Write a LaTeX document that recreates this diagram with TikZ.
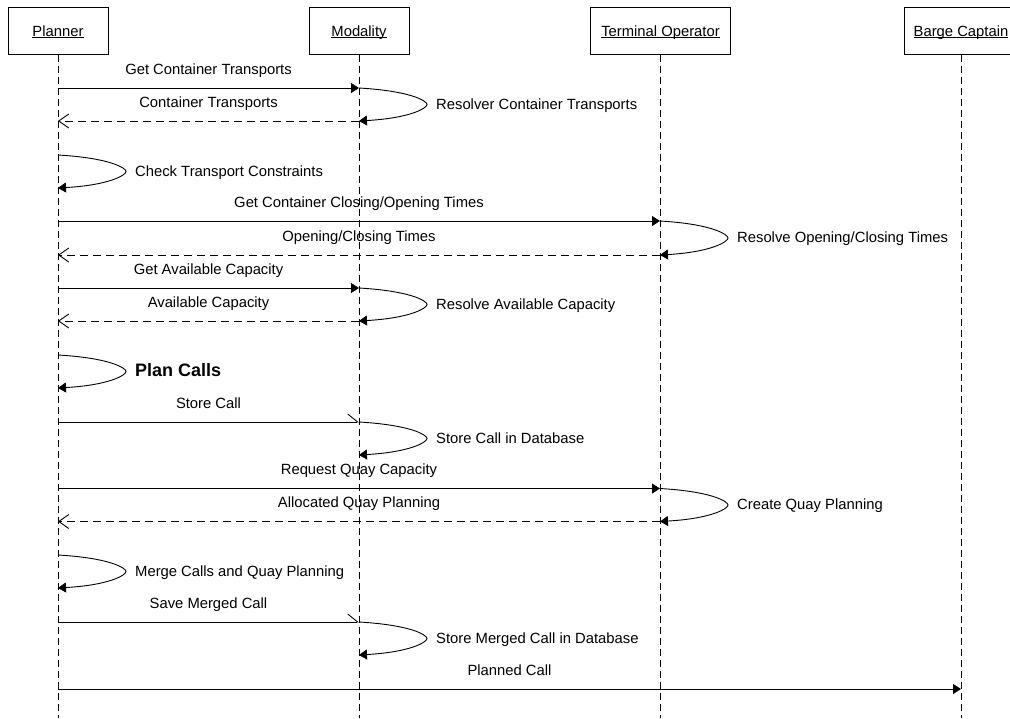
\documentclass[tikz,border=0pt]{standalone}
\usepackage{fontspec}
\setmainfont{Liberation Sans}
\usetikzlibrary{arrows.meta}

% underlined participant name with a fixed rule just below the baseline
\newcommand\ulname[1]{\setbox0\hbox{#1}\rlap{\rule[-1.8pt]{\wd0}{0.9pt}}\box0}

% self message on a lifeline: name, x, top y, bottom y, label
\newcommand\selfmsg[5]{%
  \coordinate (#1s) at (#2,#3);
  \coordinate (#1e) at (#2,#4);
  \coordinate (#1t) at (#2+68,{(#3+#4)/2});
  \draw[selfloop] (#1s) .. controls +(52,3) and +(0,-3.5) .. (#1t)
                        .. controls +(0,3.5) and +(52,-3) .. (#1e);
  \node[anchor=base west, inner sep=0pt] (#1l) at (#2+77,#3+21) {#5};
}

\begin{document}
\begin{tikzpicture}[x=1pt,y=-1pt,
  font=\fontsize{14.8}{17}\selectfont,
  actor/.style={draw, line width=0.9pt, minimum height=47pt, inner sep=0pt,
                text height=10.6pt, text depth=0pt},
  lifeline/.style={line width=0.9pt, dash pattern=on 7pt off 4pt},
  call/.style={line width=0.9pt, -{Triangle[length=8pt,width=10pt]}},
  async/.style={line width=0.9pt, -{Straight Barb[left,length=10pt,width=16pt]}},
  reply/.style={line width=0.9pt, dash pattern=on 8pt off 5pt,
                -{Straight Barb[length=10pt,width=14pt]}},
  selfloop/.style={line width=0.9pt, -{Triangle[length=8pt,width=10pt]}},
  msg/.style={anchor=base, yshift=14pt, inner sep=0pt}
]
\useasboundingbox (0,0) rectangle (1010,718);

% participants
\node[actor, minimum width=100pt] (P) at (58,30.7)  {\ulname{Planner}};
\node[actor, minimum width=100pt] (M) at (359,30.7) {\ulname{Modality}};
\node[actor, minimum width=140pt] (T) at (660.5,30.7) {\ulname{Terminal Operator}};
\node[actor, minimum width=114pt] (B) at (961,30.7) {\ulname{Barge Captain}};

% lifelines
\coordinate (Pend) at (58,718);
\coordinate (Mend) at (359,718);
\coordinate (Tend) at (660,718);
\coordinate (Bend) at (961,718);
\draw[lifeline] (P.south) -- (Pend);
\draw[lifeline] (M.south) -- (Mend);
\draw[lifeline] ([xshift=-0.5pt]T.south) -- (Tend);
\draw[lifeline] (B.south) -- (Bend);

% container transports
\coordinate (a1) at (58,88);  \coordinate (b1) at (359,88);
\draw[call] (a1) -- node[msg] {Get Container Transports} (b1);
\selfmsg{r1}{359}{88}{121}{Resolver Container Transports}
\coordinate (a2) at (58,121);
\draw[reply] (r1e) -- node[msg] {Container Transports} (a2);

\selfmsg{c1}{58}{155}{188}{Check Transport Constraints}

% closing / opening times
\coordinate (a3) at (58,221); \coordinate (b3) at (660,221);
\draw[call] (a3) -- node[msg] {Get Container Closing/Opening Times} (b3);
\selfmsg{r2}{660}{221}{255}{Resolve Opening/Closing Times}
\coordinate (a4) at (58,255);
\draw[reply] (r2e) -- node[msg] {Opening/Closing Times} (a4);

% available capacity
\coordinate (a5) at (58,288); \coordinate (b5) at (359,288);
\draw[call] (a5) -- node[msg] {Get Available Capacity} (b5);
\selfmsg{r3}{359}{288}{321}{Resolve Available Capacity}
\coordinate (a6) at (58,321);
\draw[reply] (r3e) -- node[msg] {Available Capacity} (a6);

\selfmsg{c2}{58}{355}{388}{\fontsize{18}{20}\selectfont\bfseries Plan Calls}

% store call
\coordinate (a7) at (58,422); \coordinate (b7) at (359,422);
\draw[async] (a7) -- node[msg] {Store Call} (b7);
\selfmsg{r4}{359}{422}{455}{Store Call in Database}

% quay capacity
\coordinate (a8) at (58,488.5); \coordinate (b8) at (660,488.5);
\draw[call] (a8) -- node[msg] {Request Quay Capacity} (b8);
\selfmsg{r5}{660}{488.5}{521.5}{Create Quay Planning}
\coordinate (a9) at (58,521.5);
\draw[reply] (r5e) -- node[msg] {Allocated Quay Planning} (a9);

\selfmsg{c3}{58}{555}{588}{Merge Calls and Quay Planning}

% merged call
\coordinate (a10) at (58,622); \coordinate (b10) at (359,622);
\draw[async] (a10) -- node[msg] {Save Merged Call} (b10);
\selfmsg{r6}{359}{622}{655}{Store Merged Call in Database}

% planned call to the barge captain
\coordinate (a11) at (58,689); \coordinate (b11) at (961,689);
\draw[call] (a11) -- node[msg] {Planned Call} (b11);
\end{tikzpicture}
\end{document}
